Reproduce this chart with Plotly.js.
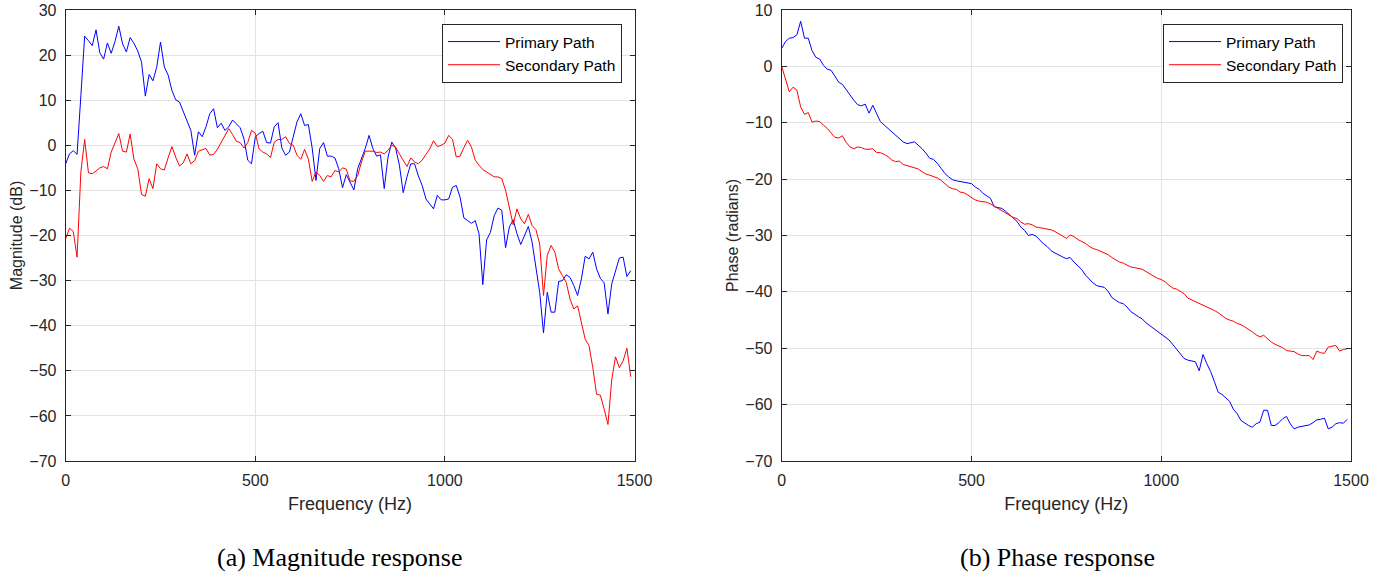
<!DOCTYPE html>
<html>
<head>
<meta charset="utf-8">
<script src="https://cdn.plot.ly/plotly-3.0.1.min.js"></script>
<style>html,body{margin:0;padding:0;background:#fff;}#chart{width:1397px;height:577px;}</style>
</head>
<body>
<div id="chart"></div>
<script>
// Frequency grid (Hz)
var freq = [
0,10,20,30,40,50,60,70,80,90,100,110,120,130,140,150,160,170,180,190,
200,210,220,230,240,250,260,270,280,290,300,310,320,330,340,350,360,370,380,390,
400,410,420,430,440,450,460,470,480,490,500,510,520,530,540,550,560,570,580,590,
600,610,620,630,640,650,660,670,680,690,700,710,720,730,740,750,760,770,780,790,
800,810,820,830,840,850,860,870,880,890,900,910,920,930,940,950,960,970,980,990,
1000,1010,1020,1030,1040,1050,1060,1070,1080,1090,1100,1110,1120,1130,1140,1150,1160,1170,1180,1190,
1200,1210,1220,1230,1240,1250,1260,1270,1280,1290,1300,1310,1320,1330,1340,1350,1360,1370,1380,1390,
1400,1410,1420,1430,1440,1450,1460,1470,1480,1490];

// Magnitude (dB) - Primary Path
var magPrimary = [
-4.1,-1.9,-1.2,-2.0,11.0,24.2,23.2,22.1,25.6,20.5,19.1,22.7,20.4,23.0,26.4,22.5,20.7,23.9,22.6,20.9,
18.4,10.9,15.7,14.3,17.3,22.9,17.4,15.6,12.2,10.1,9.6,7.4,5.5,3.3,-2.2,3.0,1.9,4.1,7.0,8.1,
3.9,4.9,3.3,4.1,5.6,4.8,3.9,1.5,-3.3,-4.1,1.9,2.6,3.1,0.6,0.5,4.1,5.0,-0.6,-2.2,-1.5,
2.2,5.2,7.0,4.4,4.6,-0.6,-7.8,-0.7,0.6,-2.4,-2.4,-2.8,-5.2,-9.4,-6.5,-8.1,-9.9,-5.2,-3.0,-0.7,
2.2,-0.7,-2.4,-2.1,-9.6,-2.6,0.7,-0.6,-4.4,-10.5,-7.0,-4.1,-4.1,-6.8,-8.9,-11.9,-13.0,-14.1,-11.1,-12.1,
-12.1,-11.9,-9.3,-8.9,-11.5,-16.1,-16.7,-17.3,-16.7,-19.6,-30.9,-21.0,-19.3,-15.6,-13.9,-14.4,-22.7,-18.1,-16.5,-19.6,
-22.0,-20.0,-18.0,-21.5,-26.7,-32.6,-41.6,-32.6,-37.0,-37.0,-30.2,-30.0,-28.7,-29.3,-31.1,-33.3,-29.6,-24.6,-25.2,-23.7,
-27.4,-29.5,-30.5,-37.4,-30.7,-27.8,-25.0,-24.8,-29.1,-27.8];

// Magnitude (dB) - Secondary Path
var magSecondary = [
-20.7,-18.4,-19.1,-24.8,-5.9,1.3,-6.1,-6.3,-5.7,-5.0,-4.7,-5.2,-1.5,0.5,2.6,-1.3,-1.5,2.5,-3.1,-5.2,
-10.9,-11.3,-7.4,-9.6,-4.1,-5.2,-5.5,-2.8,-0.3,-2.6,-4.6,-3.9,-1.9,-4.1,-3.4,-1.3,-1.0,-0.7,-2.2,-2.0,
-0.9,0.6,2.2,3.7,2.4,0.9,0.6,-0.6,0.6,3.3,2.7,-0.8,-1.5,-1.9,-2.7,0.7,1.3,1.3,1.9,0.4,
0.0,-2.2,-3.1,-0.9,-3.1,-8.0,-5.9,-6.7,-8.0,-6.7,-7.0,-5.6,-5.9,-5.0,-5.3,-7.9,-8.0,-6.7,-3.7,-1.3,
-1.3,-1.3,-1.6,-1.5,-1.9,-1.1,0.0,-0.4,-1.9,-3.3,-4.7,-2.8,-3.7,-4.1,-3.3,-2.0,-0.8,1.0,-0.3,0.0,
0.5,2.2,1.3,-2.6,-2.4,-0.5,1.1,-0.4,-3.3,-4.4,-5.4,-5.9,-6.4,-7.0,-7.0,-7.4,-10.0,-13.6,-17.6,-14.1,
-16.3,-17.4,-15.3,-17.8,-18.7,-21.9,-33.3,-24.4,-22.2,-23.7,-27.4,-28.9,-30.4,-34.1,-36.3,-35.6,-39.5,-43.0,-44.4,-49.3,
-55.2,-55.4,-58.5,-61.9,-51.9,-46.9,-49.3,-47.8,-45.0,-51.3];

// Phase (radians) - Primary Path
var phasePrimary = [
3.2,4.4,5.0,5.1,5.6,8.0,5.0,5.0,2.8,1.6,1.3,0.2,-0.5,-0.7,-1.7,-2.8,-3.2,-4.2,-5.0,-6.0,
-6.8,-7.0,-6.7,-8.3,-6.9,-8.3,-9.8,-10.4,-11.0,-11.5,-12.1,-12.8,-13.4,-13.7,-13.6,-13.4,-14.0,-14.6,-15.4,-16.3,
-16.5,-17.2,-18.1,-19.0,-19.6,-20.1,-20.3,-20.4,-20.5,-20.6,-20.8,-21.4,-21.8,-22.5,-23.0,-23.4,-24.9,-25.1,-25.2,-25.7,
-26.3,-27.0,-27.5,-28.5,-29.1,-30.0,-29.8,-30.1,-30.8,-31.5,-32.0,-32.7,-33.1,-33.5,-33.8,-34.1,-33.9,-34.7,-35.3,-36.0,
-37.0,-37.8,-38.4,-38.9,-39.1,-39.2,-39.9,-41.0,-41.5,-41.9,-42.1,-42.7,-43.5,-44.0,-44.4,-44.8,-45.5,-46.0,-46.5,-47.0,
-47.5,-47.9,-48.5,-49.3,-50.1,-51.1,-51.8,-52.1,-52.3,-52.4,-54.0,-51.1,-52.7,-54.1,-55.9,-57.8,-58.2,-58.8,-59.4,-60.8,
-61.6,-62.8,-63.3,-63.7,-64.0,-63.4,-63.1,-61.0,-61.0,-63.7,-63.7,-63.2,-62.5,-62.1,-63.4,-64.3,-64.0,-63.9,-63.8,-63.6,
-63.2,-62.7,-62.6,-62.4,-64.3,-64.0,-63.4,-63.2,-63.3,-62.6];

// Phase (radians) - Secondary Path
var phaseSecondary = [
0.0,-2.1,-4.5,-3.7,-4.2,-7.2,-8.5,-8.2,-9.9,-9.7,-9.8,-10.4,-11.0,-11.8,-12.6,-12.7,-12.3,-13.5,-14.3,-14.6,
-14.3,-14.4,-14.7,-14.7,-14.6,-15.3,-15.3,-15.6,-16.0,-16.6,-16.9,-16.8,-17.4,-17.6,-17.8,-18.1,-18.2,-18.7,-19.1,-19.3,
-19.5,-19.8,-20.2,-20.8,-21.4,-21.7,-21.8,-22.3,-22.4,-22.8,-23.3,-23.7,-23.9,-24.0,-24.1,-24.4,-24.8,-25.2,-25.7,-26.1,
-26.4,-26.8,-27.0,-27.6,-28.0,-27.9,-28.1,-28.5,-28.6,-28.7,-28.8,-29.0,-29.3,-29.7,-30.0,-30.5,-29.9,-30.2,-30.7,-31.0,
-31.4,-31.9,-32.3,-32.5,-32.8,-33.1,-33.4,-33.9,-34.3,-34.7,-34.9,-35.3,-35.6,-35.7,-35.9,-36.0,-36.4,-36.8,-37.2,-37.6,
-37.8,-38.2,-38.8,-39.3,-39.5,-39.9,-40.3,-41.1,-41.4,-41.7,-42.0,-42.3,-42.7,-43.0,-43.3,-43.7,-44.2,-44.7,-45.0,-45.2,
-45.6,-45.8,-46.2,-46.6,-47.1,-47.6,-48.0,-47.7,-48.3,-48.9,-49.3,-49.6,-49.9,-50.4,-50.5,-50.6,-51.0,-51.3,-51.3,-51.3,
-52.0,-50.5,-50.8,-50.9,-49.8,-49.6,-49.5,-50.5,-50.2,-50.1];

var seriesNames = ['Primary Path', 'Secondary Path'];
var xTitle = 'Frequency (Hz)';
var yTitles = ['Magnitude (dB)', 'Phase (radians)'];
var captions = ['(a) Magnitude response', '(b) Phase response'];

var BLUE = '#0000ff', RED = '#ff0000';
var traces = [
  {x: freq, y: magPrimary, name: seriesNames[0], type: 'scatter', mode: 'lines', line: {color: BLUE, width: 1}, xaxis: 'x', yaxis: 'y', legend: 'legend'},
  {x: freq, y: magSecondary, name: seriesNames[1], type: 'scatter', mode: 'lines', line: {color: RED, width: 1}, xaxis: 'x', yaxis: 'y', legend: 'legend'},
  {x: freq, y: phasePrimary, name: seriesNames[0], type: 'scatter', mode: 'lines', line: {color: BLUE, width: 1}, xaxis: 'x2', yaxis: 'y2', legend: 'legend2'},
  {x: freq, y: phaseSecondary, name: seriesNames[1], type: 'scatter', mode: 'lines', line: {color: RED, width: 1}, xaxis: 'x2', yaxis: 'y2', legend: 'legend2'}
];

var FONT = 'Liberation Sans, Arial, sans-serif';
var AX = '#262626';
function xax(dom) {
  return {
    domain: dom, range: [0, 1500], tickvals: [0, 500, 1000, 1500], ticks: 'inside', ticklen: 5,
    tickcolor: AX, showline: true, linecolor: AX, linewidth: 1, mirror: 'ticks',
    showgrid: true, gridcolor: '#e3e3e3', gridwidth: 1, zeroline: false,
    tickfont: {family: FONT, size: 16, color: AX}, ticklabelstandoff: 5,
    title: {text: xTitle, font: {family: FONT, size: 18, color: AX}, standoff: 9},
    fixedrange: true
  };
}
function yax(dom, rng, anchor, title) {
  var tv = [];
  for (var v = rng[0]; v <= rng[1]; v += 10) tv.push(v);
  return {
    domain: dom, range: rng, tickvals: tv, ticks: 'inside', ticklen: 5, anchor: anchor,
    tickcolor: AX, showline: true, linecolor: AX, linewidth: 1, mirror: 'ticks',
    showgrid: true, gridcolor: '#e3e3e3', gridwidth: 1, zeroline: false,
    tickfont: {family: FONT, size: 16, color: AX}, ticklabelstandoff: 5,
    title: {text: title, font: {family: FONT, size: 16, color: AX}, standoff: 2},
    fixedrange: true
  };
}
var yDom = [116/577, 567/577];
var legendBase = {
  bgcolor: '#ffffff', bordercolor: '#262626', borderwidth: 1,
  font: {family: FONT, size: 15.5, color: '#000'}, itemwidth: 52,
  tracegroupgap: 0, yanchor: 'top', xanchor: 'right', y: 553/577
};
var layout = {
  width: 1397, height: 577,
  margin: {l: 0, r: 0, t: 0, b: 0},
  paper_bgcolor: '#ffffff', plot_bgcolor: '#ffffff',
  showlegend: true,
  xaxis: xax([65.7/1397, 634.5/1397]),
  yaxis: yax(yDom, [-70, 30], 'x', yTitles[0]),
  xaxis2: Object.assign(xax([781.7/1397, 1351/1397]), {anchor: 'y2'}),
  yaxis2: yax(yDom, [-70, 10], 'x2', yTitles[1]),
  legend: Object.assign({}, legendBase, {x: 622/1397}),
  legend2: Object.assign({}, legendBase, {x: 1343/1397}),
  annotations: [
    {text: captions[0], xref: 'paper', yref: 'paper', x: 339/1397, y: (577-557)/577, xanchor: 'center', yanchor: 'middle', showarrow: false,
     font: {family: 'Liberation Serif, Times New Roman, serif', size: 26, color: '#000'}},
    {text: captions[1], xref: 'paper', yref: 'paper', x: 1057/1397, y: (577-557)/577, xanchor: 'center', yanchor: 'middle', showarrow: false,
     font: {family: 'Liberation Serif, Times New Roman, serif', size: 26, color: '#000'}}
  ]
};
layout.xaxis.anchor = 'y';
Plotly.newPlot('chart', traces, layout, {displayModeBar: false, staticPlot: true});
</script>
</body>
</html>
